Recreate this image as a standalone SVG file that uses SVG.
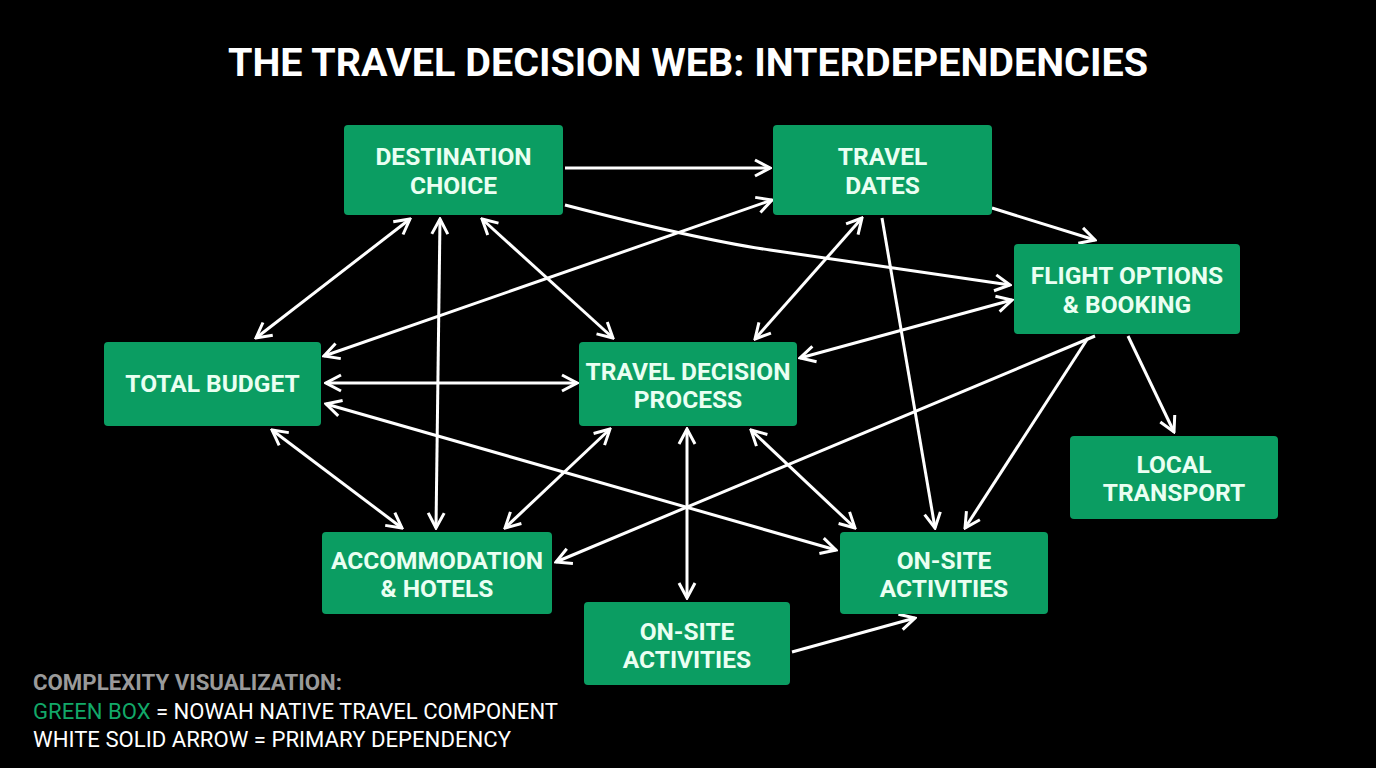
<svg xmlns="http://www.w3.org/2000/svg" width="1376" height="768" viewBox="0 0 1376 768">
<defs>
<marker id="a" viewBox="0 0 20 20" refX="18" refY="10" markerWidth="20" markerHeight="20" markerUnits="userSpaceOnUse" orient="auto-start-reverse">
<path d="M3,2 L18,10 L3,18" fill="none" stroke="#fff" stroke-width="3" stroke-linejoin="miter"/>
</marker>
<style>
.n rect{fill:#0b9d62;}
.n text{font-family:Roboto,"Liberation Sans",sans-serif;font-weight:bold;font-size:24.5px;fill:#eafff2;text-anchor:middle;}
.c line,.c path{stroke:#fff;stroke-width:3;fill:none;}
.s{marker-end:url(#a);}
.d{marker-start:url(#a);marker-end:url(#a);}
.lg{font-family:Roboto,"Liberation Sans",sans-serif;font-size:22px;}
</style>
</defs>
<rect width="1376" height="768" fill="#000"/>
<text x="688" y="76" font-family="Roboto,'Liberation Sans',sans-serif" font-weight="bold" font-size="38" fill="#fff" text-anchor="middle" textLength="920" lengthAdjust="spacingAndGlyphs">THE TRAVEL DECISION WEB: INTERDEPENDENCIES</text>
<g class="c">
<line class="s" x1="565" y1="168" x2="770" y2="168"/>
<path class="s" d="M565,205 Q700,240 770,250 T1010,285"/>
<line class="s" x1="992" y1="208" x2="1095" y2="240"/>
<line class="d" x1="410" y1="219" x2="256" y2="338"/>
<line class="d" x1="440" y1="219" x2="436" y2="528"/>
<line class="d" x1="482" y1="219" x2="613" y2="338"/>
<line class="d" x1="324" y1="356" x2="772" y2="200"/>
<line class="d" x1="326" y1="383" x2="577" y2="383"/>
<line class="d" x1="862" y1="218" x2="755" y2="339"/>
<line class="d" x1="1012" y1="300" x2="800" y2="358"/>
<line class="d" x1="326" y1="404" x2="836" y2="550"/>
<line class="d" x1="272" y1="430" x2="402" y2="528"/>
<line class="d" x1="610" y1="429" x2="505" y2="528"/>
<line class="d" x1="687" y1="429" x2="687" y2="598"/>
<line class="d" x1="751" y1="430" x2="855" y2="528"/>
<line class="s" x1="882" y1="218" x2="935" y2="528"/>
<line class="s" x1="1095" y1="336" x2="556" y2="562"/>
<line class="s" x1="1088" y1="338" x2="965" y2="528"/>
<line class="s" x1="1128" y1="336" x2="1174" y2="432"/>
<line class="s" x1="792" y1="652" x2="915" y2="618"/>
</g>
<g id="destination" class="n"><rect x="344" y="125" width="219" height="90" rx="4"/><text x="453.5" y="165">DESTINATION</text><text x="453.5" y="194">CHOICE</text></g>
<g id="dates" class="n"><rect x="773" y="125" width="219" height="90" rx="4"/><text x="882.5" y="165">TRAVEL</text><text x="882.5" y="194">DATES</text></g>
<g id="flight" class="n"><rect x="1014" y="244" width="226" height="90" rx="4"/><text x="1127" y="284">FLIGHT OPTIONS</text><text x="1127" y="313">&amp; BOOKING</text></g>
<g id="budget" class="n"><rect x="104" y="342" width="217" height="84" rx="4"/><text x="212.5" y="392">TOTAL BUDGET</text></g>
<g id="process" class="n"><rect x="579" y="342" width="218" height="84" rx="4"/><text x="688" y="380">TRAVEL DECISION</text><text x="688" y="408">PROCESS</text></g>
<g id="local" class="n"><rect x="1070" y="436" width="208" height="83" rx="4"/><text x="1174" y="473">LOCAL</text><text x="1174" y="501">TRANSPORT</text></g>
<g id="accommodation" class="n"><rect x="322" y="532" width="230" height="82" rx="4"/><text x="437" y="569">ACCOMMODATION</text><text x="437" y="597">&amp; HOTELS</text></g>
<g id="onsite1" class="n"><rect x="840" y="532" width="208" height="82" rx="4"/><text x="944" y="569">ON-SITE</text><text x="944" y="597">ACTIVITIES</text></g>
<g id="onsite2" class="n"><rect x="584" y="602" width="206" height="83" rx="4"/><text x="687" y="640">ON-SITE</text><text x="687" y="668">ACTIVITIES</text></g>
<g id="legend">
<text class="lg" x="33" y="690" font-weight="bold" fill="#9a9a9a" textLength="309" lengthAdjust="spacingAndGlyphs">COMPLEXITY VISUALIZATION:</text>
<text class="lg" x="33" y="719" fill="#fff" textLength="525" lengthAdjust="spacingAndGlyphs"><tspan fill="#12a868">GREEN BOX</tspan> = NOWAH NATIVE TRAVEL COMPONENT</text>
<text class="lg" x="33" y="747" fill="#fff" textLength="478" lengthAdjust="spacingAndGlyphs">WHITE SOLID ARROW = PRIMARY DEPENDENCY</text>
</g>
</svg>
